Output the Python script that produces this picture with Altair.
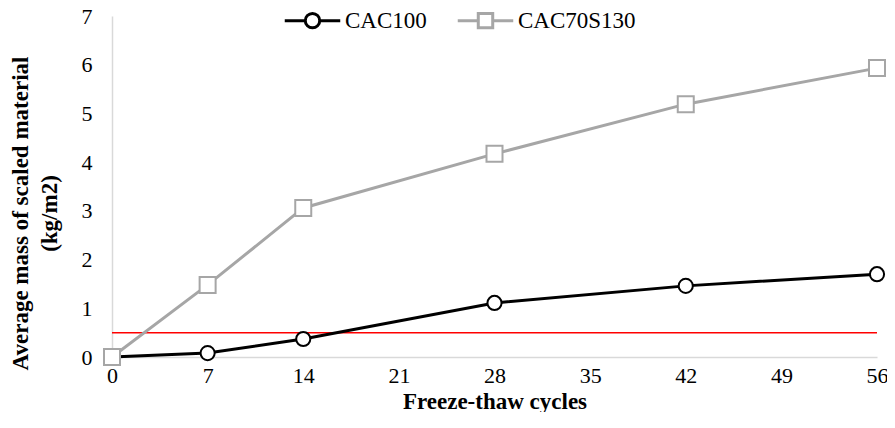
import altair as alt
import pandas as pd

cycles = [0, 7, 14, 28, 42, 56]
cac100 = [0.0, 0.08, 0.37, 1.11, 1.46, 1.70]
cac70s130 = [0.0, 1.48, 3.06, 4.17, 5.19, 5.93]
series_names = ["CAC100", "CAC70S130"]
series_colors = ["#000000", "#a6a6a6"]
threshold = 0.5
x_ticks = [0, 7, 14, 21, 28, 35, 42, 49, 56]
y_ticks = [0, 1, 2, 3, 4, 5, 6, 7]

df = pd.DataFrame({
    "cycles": cycles * 2,
    "mass": cac100 + cac70s130,
    "series": [series_names[0]] * len(cycles) + [series_names[1]] * len(cycles),
})

FONT = "Liberation Serif"

circle_sym = "M-1,0L-0.26,0M0.26,0L1,0M-0.26,0A0.26,0.26 0 1,1 0.26,0A0.26,0.26 0 1,1 -0.26,0Z"
square_sym = "M-1,0L-0.26,0M0.26,0L1,0M-0.26,-0.26L0.26,-0.26L0.26,0.26L-0.26,0.26Z"

x_enc = alt.X("cycles:Q", scale=alt.Scale(domain=[0, 56], nice=False),
              axis=alt.Axis(values=x_ticks, title="Freeze-thaw cycles", grid=False, ticks=False,
                            domainColor="#d9d9d9", domainWidth=1.5, labelPadding=8,
                            titlePadding=4, labelFlush=False,
                            labelFont=FONT, labelFontSize=22, labelColor="#000000",
                            titleFont=FONT, titleFontSize=23, titleFontWeight="bold",
                            titleColor="#000000"))
y_enc = alt.Y("mass:Q", scale=alt.Scale(domain=[0, 7], nice=False),
              axis=alt.Axis(values=y_ticks, title=["Average mass of scaled material", "(kg/m2)"],
                            grid=False, ticks=False, domainColor="#d9d9d9", domainWidth=1.5,
                            labelPadding=20, titleLineHeight=29, titleY=197, titleX=-80,
                            labelFlush=False,
                            labelFont=FONT, labelFontSize=22, labelColor="#000000",
                            titleFont=FONT, titleFontSize=23, titleFontWeight="bold",
                            titleColor="#000000"))

leg = alt.Legend(orient="none", direction="horizontal", title=None,
                 legendX=171, legendY=-25,
                 symbolSize=3080, symbolStrokeWidth=3,
                 symbolFillColor="white", symbolOpacity=1,
                 columnPadding=24, labelOffset=3,
                 labelFont=FONT, labelFontSize=23, labelColor="#000000")

legend_layer = alt.Chart(df).transform_filter("false").mark_point(
    filled=False, strokeWidth=3
).encode(
    x=x_enc, y=y_enc,
    color=alt.Color("series:N", scale=alt.Scale(domain=series_names, range=series_colors), legend=leg),
    shape=alt.Shape("series:N", scale=alt.Scale(domain=series_names, range=[circle_sym, square_sym]),
                    legend=leg),
)

line_black = alt.Chart(df[df.series == "CAC100"]).mark_line(strokeWidth=3, color="#000000").encode(
    x="cycles:Q", y="mass:Q"
)
pts_black = alt.Chart(df[df.series == "CAC100"]).mark_point(
    shape="circle", filled=True, fill="white", size=200, strokeWidth=2, stroke="#000000", opacity=1
).encode(x="cycles:Q", y="mass:Q")

line_gray = alt.Chart(df[df.series == "CAC70S130"]).mark_line(strokeWidth=3, color="#a6a6a6").encode(
    x="cycles:Q", y="mass:Q"
)
pts_gray = alt.Chart(df[df.series == "CAC70S130"]).mark_point(
    shape="square", filled=True, fill="white", size=256, strokeWidth=2, stroke="#a6a6a6", opacity=1
).encode(x="cycles:Q", y="mass:Q")

rule = alt.Chart(pd.DataFrame({"y": [threshold]})).mark_rule(color="#ff0000", strokeWidth=1.5).encode(
    y="y:Q"
)

chart = alt.layer(legend_layer, rule, line_black, pts_black, line_gray, pts_gray).properties(
    width=765, height=341,
    autosize=alt.AutoSizeParams(type="none"),
    padding={"left": 104, "top": 8, "right": 10, "bottom": 55},
).configure_view(stroke=None)

chart.save("out.html", embed_options={"renderer": "svg", "actions": False})
